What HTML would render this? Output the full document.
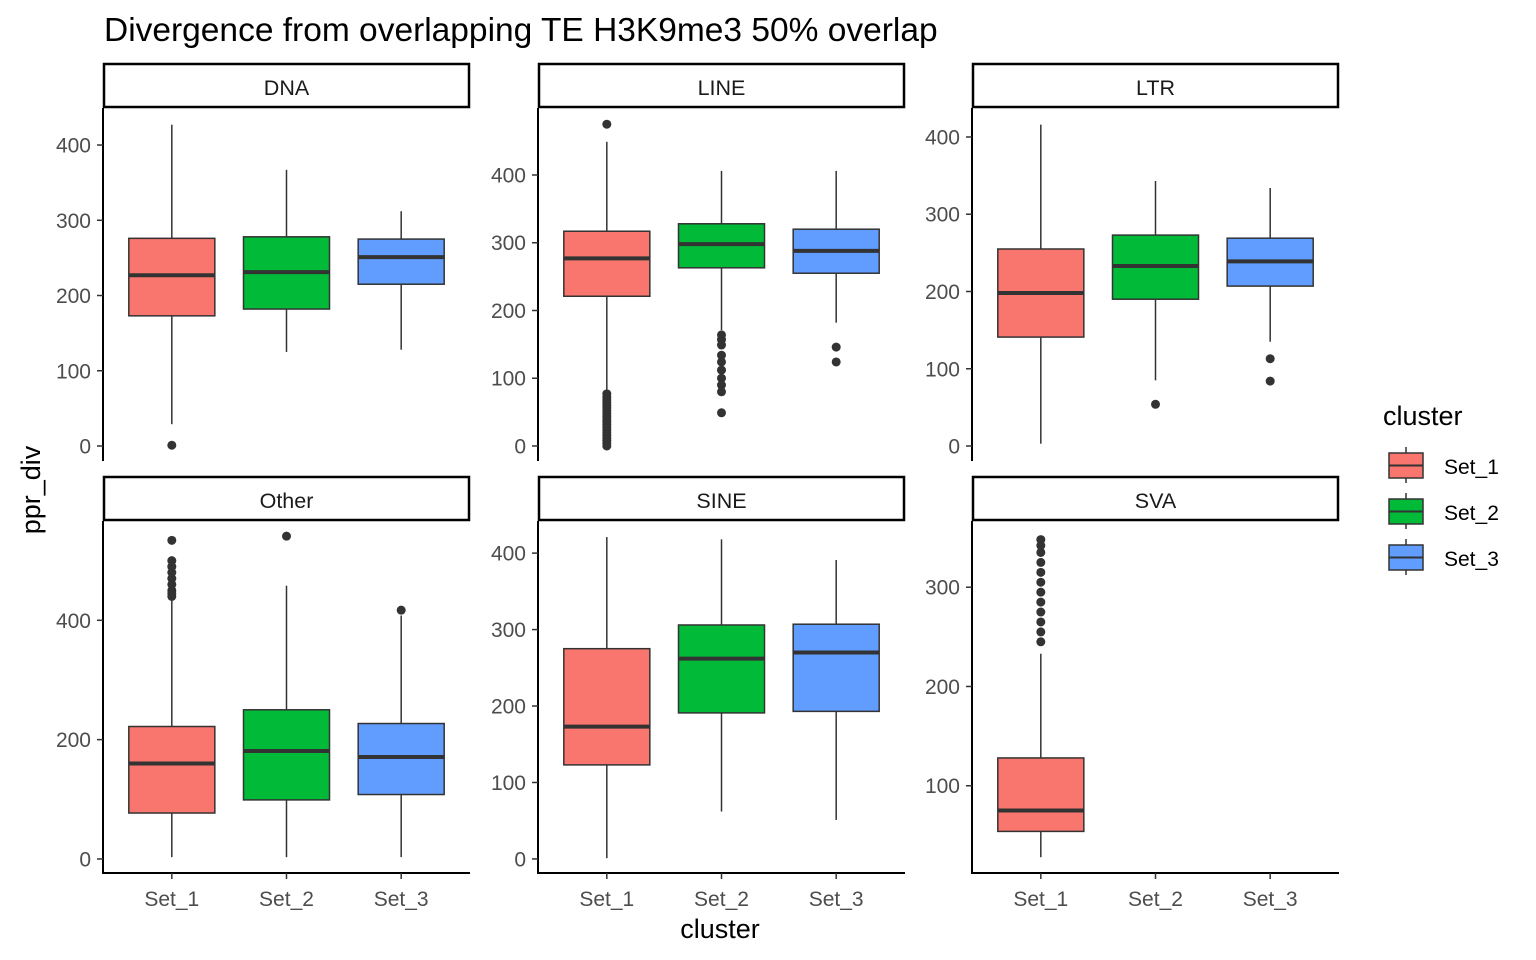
<!DOCTYPE html>
<html><head><meta charset="utf-8"><style>
html,body{margin:0;padding:0;background:#fff;}
svg{display:block;font-family:"Liberation Sans",Arial,sans-serif;}
</style></head><body>
<svg id="chart" width="1536" height="960" viewBox="0 0 1536 960" xmlns="http://www.w3.org/2000/svg">
<text x="104" y="41" font-size="33.5" fill="#000">Divergence from overlapping TE H3K9me3 50% overlap</text>
<text transform="translate(40,490) rotate(-90)" text-anchor="middle" font-size="27" fill="#000">ppr_div</text>
<text x="720" y="938" text-anchor="middle" font-size="27" fill="#000">cluster</text>
<g>
<text x="1383" y="425" font-size="27" fill="#000">cluster</text>
</g>
</svg>
<script>
const categories = ["Set_1","Set_2","Set_3"];
const colors = ["#F8766D","#00BA38","#619CFF"];
const panelNames = ["DNA","LINE","LTR","Other","SINE","SVA"];
// stats: [lowWhisker, q1, median, q3, highWhisker] per category (null = no data)
const statsDNA = [[29,173,227,276,427],[125,182,231,278,367],[128,215,251,275,312]];
const statsLINE = [[0,221,277,317,449],[171,263,298,328,406],[182,255,288,320,406]];
const statsLTR = [[3,141,198,255,416],[85,190,233,273,343],[135,207,239,269,334]];
const statsOther = [[3,77,160,222,437],[3,99,181,250,458],[3,108,171,227,408]];
const statsSINE = [[1,123,173,275,421],[62,191,262,306,418],[51,193,270,307,391]];
const statsSVA = [[28,54,75,128,233],null,null];
const outDNA = [[1],[],[]];
const outLINE = [[475,77,72,68,64,60,56,52,48,44,40,36,32,28,24,20,16,12,8,4,0],[164,157,149,134,124,112,100,90,80,49],[146,124]];
const outLTR = [[],[54],[113,84]];
const outOther = [[534,500,490,480,470,460,450,445,440],[541],[417]];
const outSINE = [[],[],[]];
const outSVA = [[348,342,335,325,315,305,295,285,275,265,255,245],[],[]];
const ticksDNA = [0,100,200,300,400];
const ticksLINE = [0,100,200,300,400];
const ticksLTR = [0,100,200,300,400];
const ticksOther = [0,200,400];
const ticksSINE = [0,100,200,300,400];
const ticksSVA = [100,200,300];
const domains = [[-18.6,449.2],[-20.7,498.9],[-18.1,437.5],[-23.5,566.4],[-18.4,442],[12.1,366.7]];

const allStats=[statsDNA,statsLINE,statsLTR,statsOther,statsSINE,statsSVA];
const allOut=[outDNA,outLINE,outLTR,outOther,outSINE,outSVA];
const allTicks=[ticksDNA,ticksLINE,ticksLTR,ticksOther,ticksSINE,ticksSVA];
const NS="http://www.w3.org/2000/svg";
const svg=document.getElementById('chart');
function mk(tag,attrs,parent){const e=document.createElementNS(NS,tag);for(const k in attrs)e.setAttribute(k,attrs[k]);(parent||svg).appendChild(e);return e;}
const colX=[103,538,972], PW=367;
const rowTop=[108,521], PH=352;
for(let p=0;p<6;p++){
  const c=p%3,r=Math.floor(p/3);
  const x0=colX[c], y0=rowTop[r], y1=y0+PH;
  const g=mk('g',{});
  
  
  const [d0,d1]=domains[p];
  const yS=v=>y1-(v-d0)/(d1-d0)*PH;
  const unit=PW/3.2;
  const xS=i=>x0+(i+0.6)*unit;
  const strip=mk('rect',{x:x0+1,y:y0-44,width:PW-2,height:43,fill:'#fff',stroke:'#000','stroke-width':2.5},g);
  
  
  const st=mk('text',{x:x0+PW/2,y:y0-13,'text-anchor':'middle','font-size':21.5,fill:'#1a1a1a'},g);
  st.textContent=panelNames[p];
  
  
  const ax=mk('line',{x1:x0,y1:y0,x2:x0,y2:y1+1,stroke:'#000','stroke-width':2},g);
  
  
  allTicks[p].forEach(t=>{
    const y=yS(t);
    mk('line',{x1:x0-6,y1:y,x2:x0,y2:y,stroke:'#333','stroke-width':1.5},g);
    const tt=mk('text',{x:x0-12,y:y+7.5,'text-anchor':'end','font-size':21,fill:'#4d4d4d'},g);
    tt.textContent=t;
    
    
  });
  if(r===1){
    const bx=mk('line',{x1:x0-1,y1:y1,x2:x0+PW,y2:y1,stroke:'#000','stroke-width':2},g);
    
    
  }
  categories.forEach((cat,i)=>{
    const cx=xS(i);
    if(r===1){
      mk('line',{x1:cx,y1:y1,x2:cx,y2:y1+6,stroke:'#333','stroke-width':1.5},g);
      const xt=mk('text',{x:cx,y:y1+33,'text-anchor':'middle','font-size':21,fill:'#4d4d4d'},g);
      xt.textContent=cat;
      
      
    }
    const s=allStats[p][i];
    if(!s) return;
    const bw=0.75*unit;
    const bg=mk('g',{},g);
    
    
    mk('line',{x1:cx,y1:yS(s[0]),x2:cx,y2:yS(s[1]),stroke:'#333','stroke-width':1.5},bg);
    mk('line',{x1:cx,y1:yS(s[3]),x2:cx,y2:yS(s[4]),stroke:'#333','stroke-width':1.5},bg);
    mk('rect',{x:cx-bw/2,y:yS(s[3]),width:bw,height:yS(s[1])-yS(s[3]),fill:colors[i],stroke:'#333','stroke-width':1.5},bg);
    mk('line',{x1:cx-bw/2,y1:yS(s[2]),x2:cx+bw/2,y2:yS(s[2]),stroke:'#333','stroke-width':4},bg);
    allOut[p][i].forEach(v=>{
      const o=mk('circle',{cx:cx,cy:yS(v),r:4.5,fill:'#333'},bg);
      
      
    });
  });
}
categories.forEach((cat,i)=>{
  const y=452+i*46;
  const lg=mk('g',{});
  
  
  mk('line',{x1:1406,y1:y-5,x2:1406,y2:y+31,stroke:'#333','stroke-width':1.5},lg);
  mk('rect',{x:1389,y:y+1,width:34,height:25,fill:colors[i],stroke:'#333','stroke-width':1.5},lg);
  mk('line',{x1:1389,y1:y+13.5,x2:1423,y2:y+13.5,stroke:'#333','stroke-width':2},lg);
  const t=mk('text',{x:1444,y:y+22,'font-size':21,fill:'#000'},lg);
  t.textContent=cat;
});
</script>
</body></html>
